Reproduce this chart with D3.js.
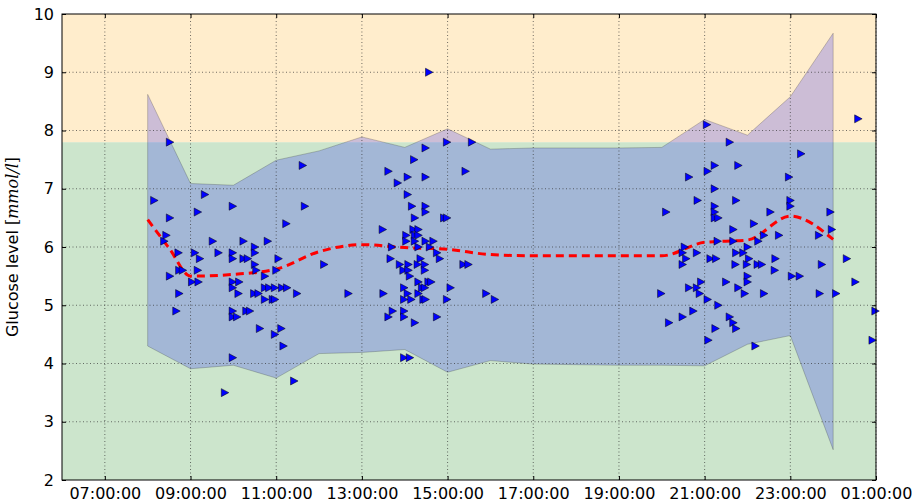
<!DOCTYPE html>
<html>
<head>
<meta charset="utf-8">
<script src="https://cdn.jsdelivr.net/npm/d3@7"></script>
<style>
    body { margin: 0; background: #fff; }
    text { font-family: "DejaVu Sans", sans-serif; }
</style>
</head>
<body>
<div id="chart"></div>
<script>
// hourly band (min/max envelope)
var bandTimes = ["08:00", "09:00", "10:00", "11:00", "12:00", "13:00", "14:00", "15:00", "16:00",
                 "17:00", "18:00", "19:00", "20:00", "21:00", "22:00", "23:00", "00:00"];
var bandUpper = [8.62, 7.09, 7.06, 7.49, 7.65, 7.89, 7.71, 8.03, 7.68,
                 7.70, 7.70, 7.70, 7.71, 8.19, 7.92, 8.58, 9.67];
var bandLower = [4.30, 3.91, 3.97, 3.75, 4.17, 4.19, 4.24, 3.85, 4.05,
                 3.99, 3.98, 3.97, 3.97, 3.96, 4.33, 4.48, 2.52];

// mean curve
var meanTimes = ["08:00", "08:30", "09:00", "10:00", "11:00", "12:00", "13:00", "14:00", "15:00", "16:00",
                 "17:00", "18:00", "19:00", "20:00", "21:00", "22:00", "23:00", "00:00"];
var meanValues = [6.47, 5.98, 5.50, 5.53, 5.62, 5.92, 6.04, 5.99, 5.96, 5.87,
                  5.85, 5.85, 5.85, 5.85, 6.08, 6.12, 6.53, 6.13];

// measurements
var pointTimes = [
    "08:31", "11:37", "08:09", "09:20", "09:59", "11:40", "09:10", "08:31", "11:14", "08:26",
    "08:23", "09:31", "10:14", "10:48", "10:30", "08:43", "09:06", "09:13", "09:39", "09:59",
    "09:59", "10:14", "10:20", "10:30", "10:30", "11:03", "08:44", "08:49", "09:10", "10:32",
    "11:00", "08:31", "10:44", "09:02", "09:11", "09:59", "10:08", "09:59", "10:44", "10:50",
    "10:58", "11:08", "11:15", "08:44", "10:07", "10:29", "10:35", "11:29", "10:44", "10:55",
    "10:58", "08:40", "09:59", "09:59", "10:05", "10:18", "10:23", "10:37", "11:07", "10:58",
    "11:10", "09:59", "11:25", "09:48", "12:07", "12:41",
    "14:34", "14:59", "15:34", "14:29", "14:13", "13:37", "14:04", "14:29", "15:25", "13:50",
    "14:04", "14:10", "14:29", "14:29", "14:14", "14:55", "14:59", "13:29", "14:12", "14:19",
    "14:02", "14:14", "14:19", "14:02", "14:14", "14:29", "14:40", "14:19", "14:35", "13:42",
    "14:45", "13:40", "14:22", "14:49", "13:53", "14:05", "14:18", "14:28", "15:22", "15:29",
    "13:58", "14:05", "14:28", "14:07", "14:19", "14:33", "14:37", "13:59", "14:24", "14:28",
    "15:04", "13:30", "14:04", "14:19", "15:54", "13:59", "14:09", "14:26", "14:29", "14:59",
    "16:06", "13:43", "13:59", "13:59", "13:37", "14:45", "14:14", "13:59", "14:07",
    "21:03", "21:35", "21:14", "21:47", "21:04", "20:38", "21:14", "20:50", "21:44", "20:06",
    "21:14", "21:14", "21:14", "21:19", "21:40", "22:09", "22:23", "22:15", "21:18", "21:40",
    "20:32", "22:00", "20:29", "20:49", "21:44", "21:54", "20:34", "21:08", "21:16", "22:02",
    "20:29", "21:43", "21:59", "22:14", "22:20", "22:00", "22:00", "20:55", "21:30", "20:38",
    "20:49", "21:47", "19:59", "20:53", "21:56", "22:23", "21:04", "21:19", "20:44", "20:29",
    "21:35", "20:10", "21:40", "21:15", "21:44", "21:05", "22:11", "00:35", "23:15", "22:58",
    "23:00", "23:00", "22:32", "23:56", "23:58", "22:44", "23:40", "22:39", "23:44", "00:19",
    "22:38", "23:02", "23:13", "00:31", "23:41", "00:04", "00:59", "00:55"];
var pointValues = [
    7.8, 7.4, 6.8, 6.9, 6.7, 6.7, 6.6, 6.5, 6.4, 6.2,
    6.1, 6.1, 6.1, 6.1, 6.0, 5.9, 5.9, 5.8, 5.9, 5.9,
    5.8, 5.8, 5.8, 5.9, 5.7, 5.8, 5.6, 5.6, 5.6, 5.6,
    5.6, 5.5, 5.5, 5.4, 5.4, 5.4, 5.4, 5.3, 5.3, 5.3,
    5.3, 5.3, 5.3, 5.2, 5.2, 5.2, 5.2, 5.2, 5.1, 5.1,
    5.1, 4.9, 4.9, 4.8, 4.8, 4.9, 4.9, 4.6, 4.6, 4.5,
    4.3, 4.1, 3.7, 3.5, 5.7, 5.2,
    9.0, 7.8, 7.8, 7.7, 7.5, 7.3, 7.2, 7.2, 7.3, 7.1,
    6.9, 6.7, 6.7, 6.6, 6.5, 6.5, 6.5, 6.3, 6.3, 6.3,
    6.2, 6.2, 6.2, 6.1, 6.1, 6.1, 6.1, 6.0, 6.0, 6.0,
    5.9, 5.8, 5.8, 5.8, 5.7, 5.7, 5.7, 5.7, 5.7, 5.7,
    5.6, 5.6, 5.6, 5.5, 5.4, 5.4, 5.4, 5.3, 5.3, 5.3,
    5.3, 5.2, 5.2, 5.2, 5.2, 5.1, 5.1, 5.1, 5.1, 5.1,
    5.1, 4.9, 4.9, 4.8, 4.8, 4.8, 4.7, 4.1, 4.1,
    8.1, 7.8, 7.4, 7.4, 7.3, 7.2, 7.0, 6.8, 6.8, 6.6,
    6.7, 6.6, 6.5, 6.5, 6.3, 6.4, 6.2, 6.1, 6.1, 6.1,
    6.0, 6.0, 5.9, 5.9, 5.9, 5.9, 5.8, 5.8, 5.8, 5.8,
    5.7, 5.7, 5.7, 5.7, 5.7, 5.5, 5.4, 5.4, 5.4, 5.3,
    5.3, 5.3, 5.2, 5.2, 5.2, 5.2, 5.1, 5.0, 4.9, 4.8,
    4.8, 4.7, 4.7, 4.6, 4.6, 4.4, 4.3, 8.2, 7.6, 7.2,
    6.8, 6.7, 6.6, 6.6, 6.3, 6.2, 6.2, 5.8, 5.7, 5.8,
    5.6, 5.5, 5.5, 5.4, 5.2, 5.2, 4.9, 4.4];

// axis settings
var timeStart = "06:00", timeEnd = "01:00";
var xTickLabels = ["07:00", "09:00", "11:00", "13:00", "15:00", "17:00", "19:00", "21:00", "23:00", "01:00"];
var yTicks = [2, 3, 4, 5, 6, 7, 8, 9, 10];
var targetLimit = 7.8;

// "HH:MM" -> Date, hours before 06:00 belong to the next day
function toDate(s) {
    var parts = s.split(":");
    var h = +parts[0], m = +parts[1];
    var day = h < 6 ? 2 : 1;
    return new Date(2000, 0, day, h, m);
}

var margin = { top: 14, right: 39, bottom: 24, left: 62 };
var width = 915 - margin.left - margin.right;
var height = 504 - margin.top - margin.bottom;

var svg = d3.select("#chart").append("svg")
    .attr("width", 915)
    .attr("height", 504)
    .append("g")
    .attr("transform", "translate(" + margin.left + "," + margin.top + ")");

var x = d3.scaleTime()
    .domain([toDate(timeStart), toDate(timeEnd)])
    .range([0, width]);
var y = d3.scaleLinear()
    .domain([2, 10])
    .range([height, 0]);

// background zones
svg.append("rect")
    .attr("x", 0).attr("y", y(targetLimit))
    .attr("width", width).attr("height", y(2) - y(targetLimit))
    .attr("fill", "#cce5cc");
svg.append("rect")
    .attr("x", 0).attr("y", y(10))
    .attr("width", width).attr("height", y(targetLimit) - y(10))
    .attr("fill", "#ffedcc");

// min/max band
var bandData = bandTimes.map(function(t, i) {
    return { t: toDate(t), lo: bandLower[i], hi: bandUpper[i] };
});
var area = d3.area()
    .x(function(d) { return x(d.t); })
    .y0(function(d) { return y(d.lo); })
    .y1(function(d) { return y(d.hi); });
svg.append("path")
    .datum(bandData)
    .attr("d", area)
    .attr("fill", "#0000ff")
    .attr("fill-opacity", 0.2)
    .attr("stroke", "#000")
    .attr("stroke-opacity", 0.2)
    .attr("stroke-width", 1);

// grid
var tickDates = xTickLabels.map(toDate);
svg.selectAll(".vgrid")
    .data(tickDates)
    .enter()
    .append("line")
    .attr("class", "vgrid")
    .attr("x1", function(d) { return x(d); })
    .attr("x2", function(d) { return x(d); })
    .attr("y1", 0).attr("y2", height)
    .attr("stroke", "#333").attr("stroke-width", 0.7)
    .attr("stroke-dasharray", "1,2.5");
svg.selectAll(".hgrid")
    .data(yTicks.slice(1, -1))
    .enter()
    .append("line")
    .attr("class", "hgrid")
    .attr("x1", 0).attr("x2", width)
    .attr("y1", function(d) { return y(d); })
    .attr("y2", function(d) { return y(d); })
    .attr("stroke", "#333").attr("stroke-width", 0.7)
    .attr("stroke-dasharray", "1,2.5");

// mean line
var meanData = meanTimes.map(function(t, i) { return { t: toDate(t), v: meanValues[i] }; });
var line = d3.line()
    .x(function(d) { return x(d.t); })
    .y(function(d) { return y(d.v); })
    .curve(d3.curveMonotoneX);
svg.append("path")
    .datum(meanData)
    .attr("d", line)
    .attr("fill", "none")
    .attr("stroke", "#ff0000")
    .attr("stroke-width", 3)
    .attr("stroke-dasharray", "8,5");

// measurements as right-pointing triangles
var points = pointTimes.map(function(t, i) { return { t: toDate(t), v: pointValues[i] }; });
svg.selectAll(".pt")
    .data(points)
    .enter()
    .append("path")
    .attr("class", "pt")
    .attr("d", "M-3.5,-4L4,0L-3.5,4Z")
    .attr("transform", function(d) { return "translate(" + x(d.t) + "," + y(d.v) + ")"; })
    .attr("fill", "#0000ff")
    .attr("stroke", "#000")
    .attr("stroke-width", 0.5);

// axes
var fmt = d3.timeFormat("%H:%M:%S");
var xAxis = svg.append("g")
    .attr("transform", "translate(0," + height + ")")
    .call(d3.axisBottom(x).tickValues(tickDates).tickFormat(fmt).tickSizeInner(-4).tickSizeOuter(0).tickPadding(8));
var xTop = svg.append("g")
    .call(d3.axisTop(x).tickValues(tickDates).tickFormat("").tickSizeInner(-4).tickSizeOuter(0));
var yAxis = svg.append("g")
    .call(d3.axisLeft(y).tickValues(yTicks).tickFormat(d3.format("d")).tickSizeInner(-4).tickSizeOuter(0).tickPadding(8));
var yRight = svg.append("g")
    .attr("transform", "translate(" + width + ",0)")
    .call(d3.axisRight(y).tickValues(yTicks).tickFormat("").tickSizeInner(-4).tickSizeOuter(0));

[xAxis, xTop, yAxis, yRight].forEach(function(g) {
    g.select(".domain").remove();
    g.selectAll(".tick line").attr("stroke", "#000");
    g.selectAll("text")
        .style("font-family", "DejaVu Sans, sans-serif")
        .style("font-size", "16px")
        .attr("fill", "#000");
});

// frame
svg.append("rect")
    .attr("width", width).attr("height", height)
    .attr("fill", "none")
    .attr("stroke", "#000")
    .attr("stroke-width", 1);

// y label
var ylab = svg.append("text")
    .attr("transform", "translate(-44," + (height / 2) + ") rotate(-90)")
    .style("text-anchor", "middle")
    .style("font-size", "16px");
ylab.append("tspan").text("Glucose level ");
ylab.append("tspan").style("font-family", "DejaVu Serif, serif").text("[");
ylab.append("tspan").style("font-family", "DejaVu Serif, serif").style("font-style", "italic").text("mmol/l");
ylab.append("tspan").style("font-family", "DejaVu Serif, serif").text("]");
</script>
</body>
</html>
